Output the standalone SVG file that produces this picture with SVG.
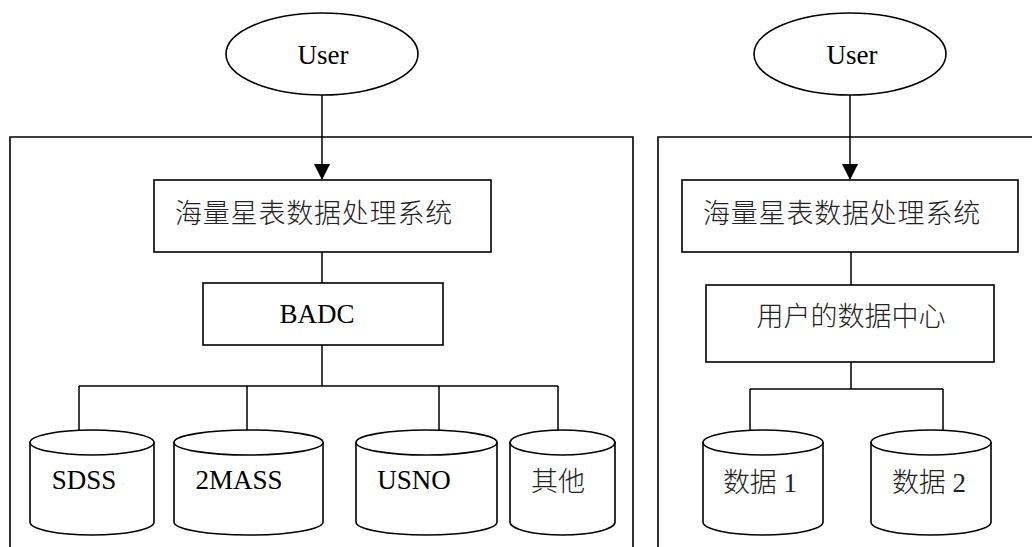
<svg xmlns="http://www.w3.org/2000/svg" width="1032" height="547" viewBox="0 0 1032 547">
<style>
.s{fill:#fff;stroke:#000;stroke-width:1.6}
.f{fill:none;stroke:#000;stroke-width:1.6}
.c{fill:none;stroke:#000;stroke-width:1.5}
.t{font-family:'Liberation Serif','Times New Roman','DejaVu Serif',serif;font-size:27px;fill:#000;text-anchor:middle}
.z{font-family:'Liberation Serif','Noto Sans CJK SC','Times New Roman',serif;font-size:27px;font-weight:300;fill:#222;text-anchor:middle}
</style>
<defs>
<marker id="ah" markerWidth="16" markerHeight="17" refX="15" refY="8" orient="auto" markerUnits="userSpaceOnUse">
<path d="M0,0 L16,8 L0,16 Z" fill="#000"/>
</marker>
</defs>
<rect width="1032" height="547" fill="#fff"/>
<g id="frames">
<path class="f" d="M10,547 L10,137 L633,137 L633,547"/>
<path class="f" d="M658,547 L658,137 L1032,137"/>
</g>
<g id="connectors">
<line class="c" x1="322" y1="95" x2="322" y2="179" marker-end="url(#ah)"/>
<line class="c" x1="850" y1="95" x2="850" y2="179" marker-end="url(#ah)"/>
<line class="c" x1="322" y1="252" x2="322" y2="283"/>
<path class="c" d="M322,345 L322,386 M79,386 L558,386 M79,386 L79,431 M247,386 L247,431 M439,386 L439,431 M558,386 L558,431"/>
<line class="c" x1="851" y1="252" x2="851" y2="285"/>
<path class="c" d="M851,362 L851,389 M750,389 L943,389 M750,389 L750,431 M943,389 L943,431"/>
</g>
<g id="user-left"><ellipse class="s" cx="322" cy="54" rx="96" ry="41"/><text class="t" x="323" y="64">User</text></g>
<g id="user-right"><ellipse class="s" cx="850" cy="54" rx="96" ry="41"/><text class="t" x="852" y="64">User</text></g>
<g id="sys-left"><rect class="s" x="154" y="180" width="337" height="72"/><text class="z" x="314" y="223" letter-spacing="0.8">海量星表数据处理系统</text></g>
<g id="badc"><rect class="s" x="203" y="283" width="240" height="62"/><text class="t" x="317" y="323">BADC</text></g>
<g id="sys-right"><rect class="s" x="682" y="180" width="336" height="72"/><text class="z" x="842" y="223" letter-spacing="0.8">海量星表数据处理系统</text></g>
<g id="udc"><rect class="s" x="706" y="285" width="288" height="77"/><text class="z" x="851" y="326">用户的数据中心</text></g>
<g id="sdss"><path class="s" d="M30,442 L30,522 A62,13 0 0 0 154,522 L154,442"/><ellipse class="s" cx="92" cy="442.5" rx="62" ry="12.5"/><text class="t" x="84" y="489">SDSS</text></g>
<g id="twomass"><path class="s" d="M174,442 L174,522 A74.5,13 0 0 0 323,522 L323,442"/><ellipse class="s" cx="248.5" cy="442.5" rx="74.5" ry="12.5"/><text class="t" x="239" y="489">2MASS</text></g>
<g id="usno"><path class="s" d="M356,442 L356,522 A70.5,13 0 0 0 497,522 L497,442"/><ellipse class="s" cx="426.5" cy="442.5" rx="70.5" ry="12.5"/><text class="t" x="414" y="489">USNO</text></g>
<g id="other"><path class="s" d="M510,442 L510,522 A52.5,13 0 0 0 615,522 L615,442"/><ellipse class="s" cx="562.5" cy="442.5" rx="52.5" ry="12.5"/><text class="z" x="558" y="491">其他</text></g>
<g id="data1"><path class="s" d="M703,442 L703,522 A60,13 0 0 0 823,522 L823,442"/><ellipse class="s" cx="763" cy="442.5" rx="60" ry="12.5"/><text class="z" x="760" y="492">数据 1</text></g>
<g id="data2"><path class="s" d="M871,442 L871,522 A60,13 0 0 0 991,522 L991,442"/><ellipse class="s" cx="931" cy="442.5" rx="60" ry="12.5"/><text class="z" x="929" y="492">数据 2</text></g>
</svg>
